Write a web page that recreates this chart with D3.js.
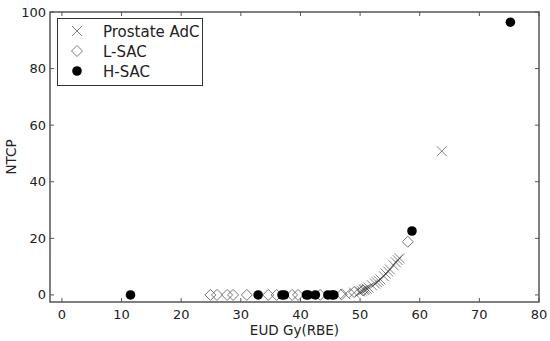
<!DOCTYPE html>
<html>
<head>
<meta charset="utf-8">
<script src="https://cdn.jsdelivr.net/npm/d3@7"></script>
<style>
  body { margin: 0; background: #fff; }
  text { font-family: "DejaVu Sans", sans-serif; fill: #222; }
</style>
</head>
<body>
<svg width="550" height="341"></svg>
<script>
// Prostate AdC (x markers)
var prostateEud  = [47.5, 49.0, 50.0, 50.3, 50.6, 50.8, 51.1, 51.4, 52.0, 52.5, 52.8, 53.1, 53.4, 54.0, 54.3, 54.7, 55.0, 55.6, 56.0, 56.3, 56.6, 63.7];
var prostateNtcp = [0.3, 0.8, 1.2, 1.5, 1.8, 2.0, 2.2, 2.6, 3.4, 4.0, 4.5, 5.0, 5.5, 6.6, 7.5, 8.3, 9.0, 10.5, 11.5, 12.3, 13.0, 50.8];

// L-SAC (diamonds)
var lsacEud  = [24.9, 26.0, 27.7, 28.7, 31.0, 34.6, 36.0, 38.6, 39.6, 43.3, 46.9, 49.0, 50.5, 58.0];
var lsacNtcp = [0, 0, 0, 0, 0, 0, 0, 0, 0, 0, 0.2, 1.0, 1.6, 18.8];

// H-SAC (filled circles)
var hsacEud  = [11.5, 32.9, 36.9, 37.3, 41.0, 41.3, 42.5, 44.6, 45.3, 45.6, 58.7, 75.2];
var hsacNtcp = [0, 0, 0, 0, 0, 0, 0, 0, 0, 0, 22.6, 96.4];

var xTicks = [0, 10, 20, 30, 40, 50, 60, 70, 80];
var yTicks = [0, 20, 40, 60, 80, 100];
var legendNames = ["Prostate AdC", "L-SAC", "H-SAC"];

(function() {
  var svg = d3.select("svg");
  var left = 50, right = 539, plotTop = 12, bottom = 302;

  var x = d3.scaleLinear().domain([-2, 80]).range([left, right]);
  var y = d3.scaleLinear().domain([-2.5, 100]).range([bottom, plotTop]);

  function zip(a, b) { return a.map(function(v, i) { return [v, b[i]]; }); }

  var axisColor = "#555";

  // ticks, inward on all four sides
  var tickLen = 4;
  var ticks = svg.append("g").attr("stroke", axisColor).attr("stroke-width", 1);
  xTicks.forEach(function(t) {
    ticks.append("line").attr("x1", x(t)).attr("x2", x(t)).attr("y1", bottom).attr("y2", bottom - tickLen);
    ticks.append("line").attr("x1", x(t)).attr("x2", x(t)).attr("y1", plotTop).attr("y2", plotTop + tickLen);
  });
  yTicks.forEach(function(t) {
    ticks.append("line").attr("y1", y(t)).attr("y2", y(t)).attr("x1", left).attr("x2", left + tickLen);
    ticks.append("line").attr("y1", y(t)).attr("y2", y(t)).attr("x1", right).attr("x2", right - tickLen);
  });

  // tick labels
  svg.append("g").selectAll("text").data(xTicks).enter().append("text")
    .attr("x", function(d) { return x(d); })
    .attr("y", bottom + 17)
    .attr("text-anchor", "middle")
    .attr("font-size", 13)
    .text(function(d) { return d; });

  svg.append("g").selectAll("text").data(yTicks).enter().append("text")
    .attr("x", left - 4)
    .attr("y", function(d) { return y(d) + 4.5; })
    .attr("text-anchor", "end")
    .attr("font-size", 13)
    .text(function(d) { return d; });

  // axis titles
  svg.append("text").attr("x", (left + right) / 2).attr("y", 335)
    .attr("text-anchor", "middle").attr("font-size", 13.5).text("EUD Gy(RBE)");
  svg.append("text").attr("transform", "translate(16," + ((plotTop + bottom) / 2) + ") rotate(-90)")
    .attr("text-anchor", "middle").attr("font-size", 13.5).text("NTCP");

  // marker shapes
  function xMark(g, s) {
    g.append("path").attr("d", "M" + (-s) + "," + (-s) + "L" + s + "," + s + "M" + (-s) + "," + s + "L" + s + "," + (-s))
      .attr("fill", "none").attr("stroke", "#333").attr("stroke-width", 0.6);
  }
  function diamond(g, s) {
    g.append("path").attr("d", "M0," + (-s) + "L" + s + ",0L0," + s + "L" + (-s) + ",0Z")
      .attr("fill", "none").attr("stroke", "#555").attr("stroke-width", 0.8);
  }
  function dot(g, r) {
    g.append("circle").attr("r", r).attr("fill", "#000");
  }

  function place(d) { return "translate(" + x(d[0]) + "," + y(d[1]) + ")"; }

  // L-SAC
  svg.append("g").selectAll("g").data(zip(lsacEud, lsacNtcp)).enter().append("g")
    .attr("transform", place)
    .each(function() { diamond(d3.select(this), 5.5); });

  // H-SAC
  svg.append("g").selectAll("g").data(zip(hsacEud, hsacNtcp)).enter().append("g")
    .attr("transform", place)
    .each(function() { dot(d3.select(this), 4.8); });

  // Prostate AdC
  svg.append("g").selectAll("g").data(zip(prostateEud, prostateNtcp)).enter().append("g")
    .attr("transform", place)
    .each(function() { xMark(d3.select(this), 5); });

  // frame
  svg.append("rect").attr("x", left).attr("y", plotTop).attr("width", right - left).attr("height", bottom - plotTop)
    .attr("fill", "none").attr("stroke", axisColor).attr("stroke-width", 1.5);

  // legend
  var lg = svg.append("g");
  lg.append("rect").attr("x", 57.5).attr("y", 18.5).attr("width", 145).attr("height", 67)
    .attr("fill", "#fff").attr("stroke", "#333").attr("stroke-width", 1);
  var makers = [function(g) { xMark(g, 5); }, function(g) { diamond(g, 5.5); }, function(g) { dot(g, 4.8); }];
  legendNames.forEach(function(name, i) {
    var cy = 31 + i * 20;
    var g = lg.append("g").attr("transform", "translate(77," + cy + ")");
    makers[i](g);
    lg.append("text").attr("x", 103).attr("y", cy + 5.5).attr("font-size", 15).text(name);
  });
})();
</script>
</body>
</html>
